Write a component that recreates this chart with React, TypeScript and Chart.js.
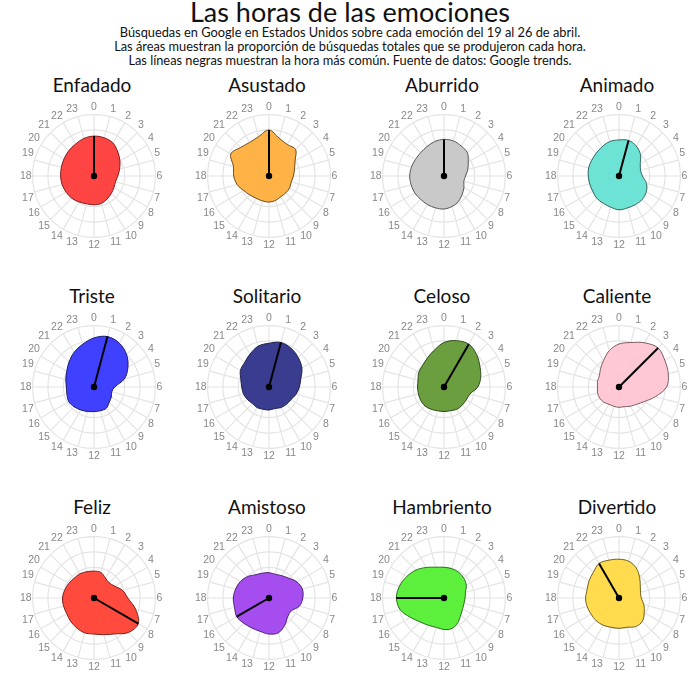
import React, { useEffect, useRef } from "react";
import { Chart, registerables } from "chart.js";

Chart.register(...registerables);

const hourLabels = ["0", "1", "2", "3", "4", "5", "6", "7", "8", "9", "10", "11", "12", "13", "14", "15", "16", "17", "18", "19", "20", "21", "22", "23"];

const emotionNames = ["Enfadado", "Asustado", "Aburrido", "Animado", "Triste", "Solitario", "Celoso", "Caliente", "Feliz", "Amistoso", "Hambriento", "Divertido"];

const enfadado = [5.2, 5.15, 4.95, 4.4, 3.9, 3.45, 3.1, 2.9, 3.0, 3.2, 3.45, 3.7, 3.75, 3.75, 3.9, 4.1, 4.2, 4.3, 4.35, 4.4, 4.5, 4.65, 4.8, 5.07];
const asustado = [6.0, 5.1, 4.75, 4.9, 3.92, 3.44, 3.18, 3.0, 3.1, 3.1, 3.1, 3.3, 3.4, 3.35, 3.35, 3.5, 3.8, 4.3, 4.6, 4.8, 5.75, 5.25, 5.05, 5.3];
const aburrido = [4.77, 4.73, 4.5, 4.3, 3.65, 3.2, 2.8, 2.67, 3.0, 3.35, 3.8, 4.1, 4.3, 4.3, 4.3, 4.3, 4.4, 4.43, 4.47, 4.4, 4.3, 4.3, 4.43, 4.65];
const animado = [4.7, 4.8, 4.5, 3.95, 3.2, 2.9, 3.05, 3.7, 4.1, 4.3, 4.3, 4.3, 4.4, 4.2, 4.1, 4.1, 3.95, 3.95, 4.0, 4.1, 4.1, 4.2, 4.4, 4.65];
const triste = [6.4, 6.8, 6.6, 6.0, 5.1, 4.1, 2.7, 2.4, 2.6, 2.8, 3.2, 3.2, 3.2, 3.3, 3.45, 3.65, 3.8, 3.65, 3.6, 3.8, 4.1, 4.6, 5.2, 5.75];
const solitario = [5.7, 6.0, 5.8, 5.4, 4.95, 4.3, 3.95, 3.65, 3.3, 3.2, 3.1, 2.9, 3.0, 3.0, 3.1, 3.05, 3.25, 3.45, 3.55, 3.8, 4.3, 4.5, 4.95, 5.5];
const celoso = [5.8, 6.25, 6.45, 6.0, 5.4, 4.95, 4.4, 3.5, 3.35, 3.35, 3.35, 3.2, 3.2, 3.2, 3.35, 3.5, 3.5, 3.45, 3.45, 3.5, 3.8, 3.95, 4.35, 4.95];
const caliente = [5.6, 6.0, 6.65, 7.2, 6.9, 6.65, 6.2, 4.9, 3.8, 3.2, 2.9, 2.65, 2.65, 2.6, 2.6, 2.8, 2.9, 2.9, 2.8, 2.9, 2.95, 3.4, 4.0, 4.9];
const feliz = [3.5, 3.45, 3.0, 2.8, 3.1, 3.85, 4.4, 5.6, 6.67, 6.35, 5.4, 4.95, 4.7, 4.7, 4.5, 4.3, 4.1, 4.1, 4.1, 3.95, 3.8, 3.65, 3.65, 3.55];
const amistoso = [3.3, 3.2, 3.35, 3.65, 4.2, 4.5, 4.4, 4.1, 3.35, 3.45, 4.1, 4.7, 4.7, 4.5, 4.5, 4.65, 4.86, 4.65, 4.65, 4.5, 4.3, 3.95, 3.5, 3.35];
const hambriento = [4.0, 3.95, 3.85, 3.65, 3.35, 2.9, 2.75, 2.7, 2.8, 3.1, 3.65, 4.1, 4.1, 3.95, 4.1, 4.4, 5.05, 5.9, 6.2, 6.0, 5.6, 5.15, 4.6, 4.15];
const divertido = [5.05, 4.95, 4.5, 3.8, 3.2, 2.9, 2.9, 3.35, 3.8, 4.3, 4.3, 3.95, 3.95, 3.95, 4.1, 4.2, 4.2, 4.3, 4.35, 4.3, 4.5, 4.73, 5.2, 5.1];

const seriesList = [enfadado, asustado, aburrido, animado, triste, solitario, celoso, caliente, feliz, amistoso, hambriento, divertido];

const fillColors = ["#FF4444", "#FFB347", "#C9C9C9", "#6DE3D5", "#4040FF", "#3A3D8F", "#6A9E3F", "#FFC8D4", "#FF4A3D", "#A64DF0", "#5CF03C", "#FFDB4D"];
const borderColors = ["#7A1F1F", "#6B4A1A", "#555555", "#2F6660", "#1A1A66", "#1E1F4A", "#2E4A1C", "#7A5C63", "#7A221C", "#4A2270", "#2D6E1E", "#6E5E1E"];

const subtitleLines = [
  "Búsquedas en Google en Estados Unidos sobre cada emoción del 19 al 26 de abril.",
  "Las áreas muestran la proporción de búsquedas totales que se produjeron cada hora.",
  "Las líneas negras muestran la hora más común. Fuente de datos: Google trends.",
];

const FONT = "Lato, 'Open Sans', sans-serif";
const COL_X = [92, 267, 442, 617];
const ROW_Y = [176, 387, 597.5];
const SIZE = 150;

function RadarCell(props: { name: string; values: number[]; fill: string; border: string; cx: number; cy: number }) {
  const { name, values, fill, border, cx, cy } = props;
  const ref = useRef<HTMLCanvasElement | null>(null);
  useEffect(() => {
    if (!ref.current) return;
    const peak = values.indexOf(Math.max(...values));
    const next = (peak + 1) % values.length;
    const lineData = values.map((v, i) => (i === peak ? v : i === next ? 0 : null));
    const chart = new Chart(ref.current, {
      type: "radar",
      data: {
        labels: hourLabels,
        datasets: [
          {
            data: lineData as any,
            borderColor: "#000000",
            borderWidth: 2,
            fill: false,
            tension: 0,
            spanGaps: false,
            pointRadius: values.map((_, i) => (i === next ? 3.2 : 0)),
            pointBackgroundColor: "#000000",
            pointBorderWidth: 0,
          },
          {
            data: values,
            backgroundColor: fill,
            borderColor: border,
            borderWidth: 1,
            fill: true,
            tension: 0.35,
            pointRadius: 0,
          },
        ],
      },
      options: {
        responsive: false,
        animation: false,
        events: [],
        layout: { padding: 0 },
        plugins: { legend: { display: false }, tooltip: { enabled: false }, title: { display: false } },
        scales: {
          r: {
            min: 0,
            max: 8,
            ticks: { display: false, stepSize: 2 },
            grid: { color: "#e4e4e4", circular: true, lineWidth: 1.2 },
            angleLines: { color: "#e4e4e4", lineWidth: 1.2 },
            pointLabels: { font: { family: "'Liberation Sans', Arial, sans-serif", size: 10.5 }, color: "#888888", padding: 1 },
          },
        },
      },
    });
    return () => chart.destroy();
  }, [values, fill, border]);
  return (
    <>
      <div
        style={{
          position: "absolute",
          left: cx - 85,
          top: cy - 103,
          width: 170,
          height: 24,
          lineHeight: "24px",
          textAlign: "center",
          fontFamily: FONT,
          fontSize: 19,
          color: "#111",
        }}
      >
        {name}
      </div>
      <canvas
        ref={ref}
        width={SIZE}
        height={SIZE}
        style={{ position: "absolute", left: cx - SIZE / 2, top: cy - SIZE / 2, width: SIZE, height: SIZE }}
      />
    </>
  );
}

export default function App() {
  return (
    <div style={{ position: "fixed", left: 0, top: 0, width: 700, height: 700, background: "#ffffff", overflow: "hidden" }}>
      <div
        style={{
          position: "absolute",
          left: 0,
          top: -3,
          width: 700,
          textAlign: "center",
          fontFamily: FONT,
          fontSize: 27,
          lineHeight: "30px",
          color: "#111",
        }}
      >
        Las horas de las emociones
      </div>
      <div
        style={{
          position: "absolute",
          left: 0,
          top: 25,
          width: 700,
          textAlign: "center",
          fontFamily: FONT,
          fontSize: 12.8,
          lineHeight: "14px",
          color: "#111",
        }}
      >
        {subtitleLines.map((t, i) => (
          <div key={i}>{t}</div>
        ))}
      </div>
      {emotionNames.map((name, i) => (
        <RadarCell
          key={name}
          name={name}
          values={seriesList[i]}
          fill={fillColors[i]}
          border={borderColors[i]}
          cx={COL_X[i % 4]}
          cy={ROW_Y[Math.floor(i / 4)]}
        />
      ))}
    </div>
  );
}
